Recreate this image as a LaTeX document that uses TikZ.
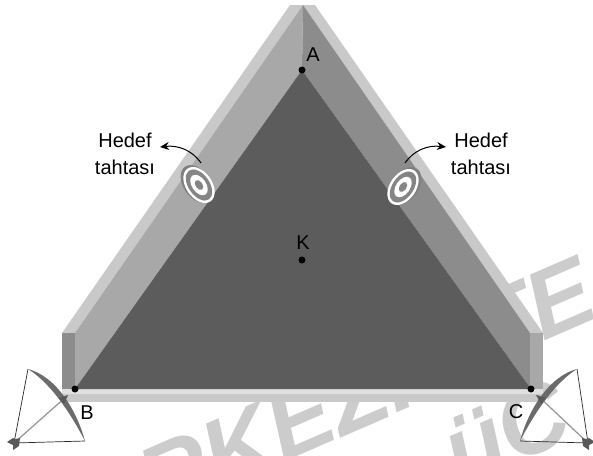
\documentclass[tikz,border=0pt]{standalone}
\usepackage{fontspec}
\setmainfont{Liberation Sans}
\usetikzlibrary{arrows.meta}
\definecolor{wallL}{gray}{0.66}
\definecolor{wallR}{gray}{0.55}
\definecolor{band}{gray}{0.79}
\definecolor{ledge}{gray}{0.88}
\definecolor{ground}{gray}{0.36}
\definecolor{markgray}{HTML}{CCCCCC}
\tikzset{
  lbl/.style={font=\fontsize{20}{27}\selectfont, inner sep=0pt, align=center},
  pt/.style={circle, fill=black, inner sep=0pt, minimum size=7pt},
  wm/.style={font=\fontsize{96}{96}\selectfont\bfseries\itshape, text=markgray, inner sep=0pt, anchor=base west, rotate=23.5},
  callout/.style={line width=1pt, -{Stealth[length=9pt,width=8pt]}},
  bowstring/.style={line width=0.7pt, black!85},
  shaft/.style={line width=1.3pt, black!40},
}
\newcommand{\targetboard}[3]{% center, angle, shadow center
  \fill[black!50] #3 circle [x radius=21, y radius=13.5, rotate=#2];
  \begin{scope}[shift={#1}, rotate=#2]
    \fill[white] (0,0) circle [x radius=20, y radius=13];
    \fill[black!48] (0,0) circle [x radius=17.5, y radius=10.5];
    \fill[white] (0,0) circle [x radius=11.5, y radius=7];
    \fill[black!48] (0,0) circle [x radius=5.5, y radius=3.5];
  \end{scope}}
\begin{document}
\begin{tikzpicture}[x=1pt, y=-1pt]
  \useasboundingbox (0,0) rectangle (593,455);
  \clip (0,0) rectangle (593,455);
  % watermark
  \node[wm] (markA) at (156,518) {RKEZİ};
  \node[wm] (markB) at (460,488) {üC};
  \node[wm] (markC) at (490,365) {TE};
  % corners of the pyramid
  \coordinate (top) at (303,5);
  \coordinate (la) at (62,333);
  \coordinate (lb) at (75,333);
  \coordinate (ra) at (530,333);
  \coordinate (rb) at (543,333);
  \node[pt] (A) at (302,70) {};
  \node[pt] (K) at (302,260) {};
  \node[pt] (B) at (75,389) {};
  \node[pt] (C) at (531,389) {};
  % faces
  \fill[band] (290,5) -- (top) -- (lb) -- (la) -- cycle;
  \fill[band] (315,5) -- (top) -- (ra) -- (rb) -- cycle;
  \fill[wallL] (top) -- (A.center) -- (B.center) -- (lb) -- cycle;
  \fill[wallR] (top) -- (A.center) -- (C.center) -- (ra) -- cycle;
  \fill[wallR] (la) rectangle (75,389);
  \fill[wallL] (ra) rectangle (543,389);
  \fill[band] (62,389) rectangle (543,402);
  \fill[ledge] (62,389) rectangle (543,394);
  \fill[ground] (A.center) -- (B.center) -- (C.center) -- cycle;
  \node[pt] at (A) {};
  \node[pt] at (K) {};
  \node[pt] at (B) {};
  \node[pt] at (C) {};
  % targets
  \targetboard{(199,185)}{-55}{(197,184)}
  \targetboard{(403,187)}{55}{(405,186)}
  \coordinate (hitL) at (201,163);
  \coordinate (hitR) at (405,163);
  \coordinate (endL) at (160,147);
  \coordinate (endR) at (446,147);
  % labels
  \node[lbl] (labA) at (313,55) {A};
  \node[lbl] (labK) at (303,243) {K};
  \node[lbl] (labB) at (87,413) {B};
  \node[lbl] (labC) at (516,412) {C};
  \node[lbl] (hedefL) at (125,154) {Hedef\\tahtası};
  \node[lbl] (hedefR) at (481,154) {Hedef\\tahtası};
  \draw[callout] (hitL) .. controls (192,150) and (178,145) .. (endL);
  \draw[callout] (hitR) .. controls (414,150) and (428,145) .. (endR);
  % left bow
  \coordinate (tipL1) at (28,369);
  \coordinate (tipL2) at (85,441);
  \coordinate (nockL) at (14,443);
  \coordinate (headL) at (67,396);
  \draw[bowstring] (tipL1) -- (nockL) -- (tipL2);
  \draw[shaft] (nockL) -- (headL);
  \fill[black!58] (tipL1) .. controls (55,376) and (76,408) .. (tipL2)
    .. controls (72,416) and (52,384) .. (tipL1);
  \fill[black!65] (68,395) -- (59,398) -- (64,404) -- cycle;
  \fill[black!65] (7,442) -- (13,438) -- (15,439) -- (20,438) -- (19,446) -- (13,450) -- (13,445) -- cycle;
  % right bow
  \coordinate (tipR1) at (577,369);
  \coordinate (tipR2) at (520,441);
  \coordinate (nockR) at (588,443);
  \coordinate (headR) at (537,395);
  \draw[bowstring] (tipR1) -- (nockR) -- (tipR2);
  \draw[shaft] (nockR) -- (headR);
  \fill[black!58] (tipR1) .. controls (550,376) and (529,408) .. (tipR2)
    .. controls (533,416) and (553,384) .. (tipR1);
  \fill[black!65] (536,395) -- (546,398) -- (541,404) -- cycle;
  \fill[black!65] (595,442) -- (589,438) -- (587,439) -- (582,438) -- (583,446) -- (589,450) -- (589,445) -- cycle;
\end{tikzpicture}
\end{document}
